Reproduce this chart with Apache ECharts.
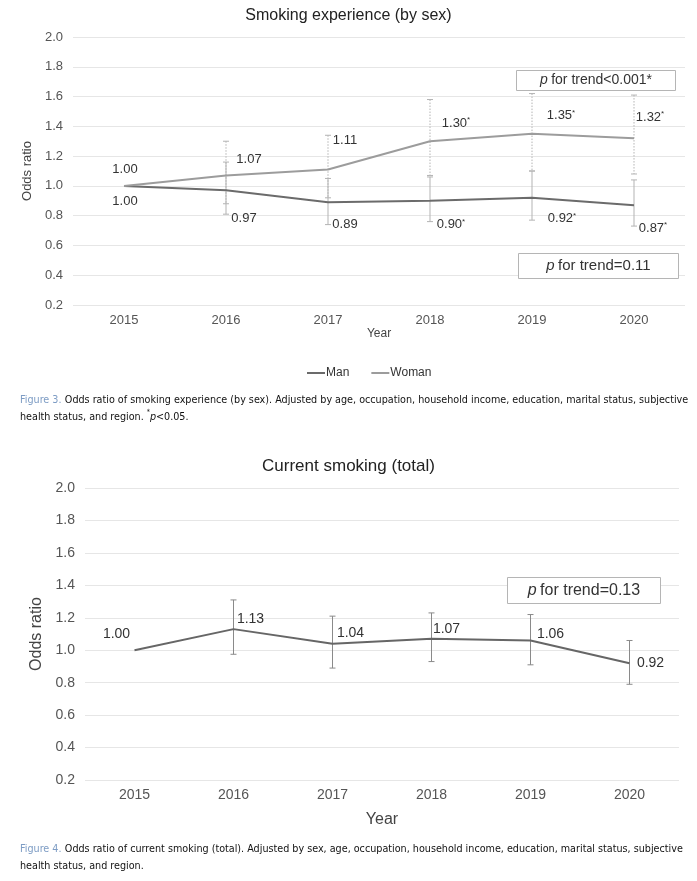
<!DOCTYPE html>
<html>
<head>
<meta charset="utf-8">
<script src="https://cdn.jsdelivr.net/npm/echarts@6/dist/echarts.min.js"></script>
<style>
html,body{margin:0;padding:0;background:#fff;}
#c{width:697px;height:881px;}
</style>
</head>
<body>
<div id="c"></div>
<script>
// ---------- data ----------
const years = ['2015', '2016', '2017', '2018', '2019', '2020'];
const yTickMin = 0.2, yTickMax = 2.0, yTickStep = 0.2;

// Figure 3: smoking experience by sex
const manOR     = [1.00, 0.97, 0.89, 0.90, 0.92, 0.87];
const manLow    = [null, 0.81, 0.74, 0.76, 0.77, 0.73];
const manHigh   = [null, 1.16, 1.05, 1.06, 1.10, 1.04];
const manSig    = [false, false, false, true, true, true];
const womanOR   = [1.00, 1.07, 1.11, 1.30, 1.35, 1.32];
const womanLow  = [null, 0.88, 0.92, 1.07, 1.10, 1.08];
const womanHigh = [null, 1.30, 1.34, 1.58, 1.62, 1.61];
const womanSig  = [false, false, false, true, true, true];
const trendMan = '=0.11';
const trendWoman = '<0.001*';

// Figure 4: current smoking (total)
const totalOR   = [1.00, 1.13, 1.04, 1.07, 1.06, 0.92];
const totalLow  = [null, 0.975, 0.89, 0.93, 0.91, 0.79];
const totalHigh = [null, 1.31, 1.21, 1.23, 1.22, 1.06];
const totalSig  = [false, false, false, false, false, false];
const trendTotal = '=0.13';

// ---------- label placement (style, not data) ----------
const womanLabelOff = [[1,-16],[23,-16],[17,-29],[26,-18],[29,-18],[16,-21]];
const manLabelOff   = [[1,16],[18,28],[17,22],[21,24],[30,21],[19,23]];
const totalLabelOff = [[-18,-16],[17,-10],[18,-11],[15,-10],[20,-6],[21,0]];

const FONT = '"Liberation Sans", Arial, sans-serif';
const CAPFONT = '"Liberation Sans Narrow", "DejaVu Sans Condensed", sans-serif';

function lineData(vals, sig, offs, fs) {
  return vals.map((v, i) => ({
    value: v,
    label: {
      show: true,
      position: 'inside',
      offset: offs[i],
      formatter: sig[i] ? '{a|' + v.toFixed(2) + '}{s|*}' : '{a|' + v.toFixed(2) + '}',
      rich: {
        a: { fontSize: fs, color: '#333', fontFamily: FONT },
        s: { fontSize: 8, color: '#333', fontFamily: FONT, verticalAlign: 'top', padding: [0,0,6,0] }
      }
    }
  }));
}

function errData(low, high) {
  const out = [];
  low.forEach((l, i) => { if (l != null) out.push([i, l, high[i]]); });
  return out;
}

function errSeries(low, high, xi, yi, color, dash, z) {
  return {
    type: 'custom',
    xAxisIndex: xi, yAxisIndex: yi,
    z: z,
    silent: true,
    data: errData(low, high),
    renderItem: function (params, api) {
      const lo = api.coord([api.value(0), api.value(1)]);
      const hi = api.coord([api.value(0), api.value(2)]);
      const st = { stroke: color, lineWidth: 1, lineDash: dash };
      const cap = 3;
      return {
        type: 'group',
        children: [
          { type: 'line', shape: { x1: lo[0], y1: hi[1], x2: lo[0], y2: lo[1] }, style: st },
          { type: 'line', shape: { x1: lo[0]-cap, y1: hi[1], x2: lo[0]+cap, y2: hi[1] }, style: { stroke: color, lineWidth: 1 } },
          { type: 'line', shape: { x1: lo[0]-cap, y1: lo[1], x2: lo[0]+cap, y2: lo[1] }, style: { stroke: color, lineWidth: 1 } }
        ]
      };
    }
  };
}

function yAxis(gi, fs, nameFs, gap) {
  return {
    gridIndex: gi, type: 'value', min: yTickMin, max: yTickMax, interval: yTickStep,
    name: 'Odds ratio', nameLocation: 'middle', nameGap: gap,
    nameTextStyle: { fontSize: nameFs, color: '#444', fontFamily: FONT },
    axisLine: { show: false }, axisTick: { show: false },
    axisLabel: { fontSize: fs, color: '#555', fontFamily: FONT, margin: 10, formatter: v => v.toFixed(1) },
    splitLine: { lineStyle: { color: '#e6e6e6', width: 1 } }
  };
}
function xAxis(gi, fs, nameFs, gap, margin) {
  return {
    gridIndex: gi, type: 'category', data: years, boundaryGap: true,
    name: 'Year', nameLocation: 'middle', nameGap: gap,
    nameTextStyle: { fontSize: nameFs, color: '#444', fontFamily: FONT },
    axisLine: { show: false }, axisTick: { show: false },
    axisLabel: { fontSize: fs, color: '#555', fontFamily: FONT, margin: margin }
  };
}

function pBox(x, y, w, h, val, fs) {
  return {
    type: 'group', left: x, top: y, z: 100,
    children: [
      { type: 'rect', z: 100, shape: { x: 0, y: 0, width: w, height: h }, style: { fill: '#fff', stroke: '#b5b5b5', lineWidth: 1 } },
      { type: 'text', z: 101, x: w/2, y: h/2, style: {
          text: '{i|p} {n|for trend' + val + '}',
          align: 'center', verticalAlign: 'middle',
          rich: {
            i: { fontStyle: 'italic', fontSize: fs, fill: '#333', fontFamily: FONT },
            n: { fontSize: fs, fill: '#333', fontFamily: FONT }
          }
      } }
    ]
  };
}

const CAPFS = 10.7;
function caption(y, line1, line2) {
  return {
    type: 'text', left: 20, top: y, z: 100,
    style: {
      text: line1 + '\n' + line2,
      lineHeight: 17,
      rich: {
        f: { fill: '#7d9cc4', fontSize: CAPFS, fontFamily: CAPFONT, lineHeight: 17 },
        t: { fill: '#111', fontSize: CAPFS, fontFamily: CAPFONT, lineHeight: 17 },
        i: { fill: '#111', fontSize: CAPFS, fontFamily: CAPFONT, fontStyle: 'italic', lineHeight: 17 },
        s: { fill: '#111', fontSize: 7, fontFamily: CAPFONT, verticalAlign: 'top', lineHeight: 17 }
      }
    }
  };
}

const chart = echarts.init(document.getElementById('c'), null, { renderer: 'canvas' });
chart.setOption({
  backgroundColor: '#fff',
  animation: false,
  title: [
    { text: 'Smoking experience (by sex)', left: 'center', top: 3,
      textStyle: { fontSize: 16, fontWeight: 'normal', color: '#222', fontFamily: FONT } },
    { text: 'Current smoking (total)', left: 'center', top: 453,
      textStyle: { fontSize: 17, fontWeight: 'normal', color: '#222', fontFamily: FONT } }
  ],
  legend: {
    data: [
      { name: 'Man', itemStyle: { color: '#6b6b6b', opacity: 1 } },
      { name: 'Woman', itemStyle: { color: '#9c9c9c', opacity: 1 } }
    ],
    top: 362, left: 302,
    itemWidth: 18, itemHeight: 2, itemGap: 22, icon: 'rect',
    textStyle: { fontSize: 12, color: '#333', fontFamily: FONT, padding: [0,0,0,-4] }
  },
  grid: [
    { left: 73, right: 12, top: 37, height: 268 },
    { left: 85, right: 18, top: 488, height: 292 }
  ],
  xAxis: [ xAxis(0, 13, 12, 23, 9), xAxis(1, 14, 16, 32, 8) ],
  yAxis: [ yAxis(0, 13, 13, 29), yAxis(1, 14, 16, 40) ],
  series: [
    errSeries(womanLow, womanHigh, 0, 0, '#b3b3b3', [1.5, 1.5], 1),
    errSeries(manLow, manHigh, 0, 0, '#b3b3b3', null, 1),
    {
      name: 'Man', type: 'line', xAxisIndex: 0, yAxisIndex: 0, z: 3,
      data: lineData(manOR, manSig, manLabelOff, 13),
      symbol: 'circle', symbolSize: 1, showSymbol: true,
      itemStyle: { color: 'rgba(0,0,0,0)' },
      lineStyle: { color: '#6b6b6b', width: 2 }
    },
    {
      name: 'Woman', type: 'line', xAxisIndex: 0, yAxisIndex: 0, z: 3,
      data: lineData(womanOR, womanSig, womanLabelOff, 13),
      symbol: 'circle', symbolSize: 1, showSymbol: true,
      itemStyle: { color: 'rgba(0,0,0,0)' },
      lineStyle: { color: '#9c9c9c', width: 2 }
    },
    errSeries(totalLow, totalHigh, 1, 1, '#8a8a8a', null, 1),
    {
      name: 'Total', type: 'line', xAxisIndex: 1, yAxisIndex: 1, z: 3,
      data: lineData(totalOR, totalSig, totalLabelOff, 14),
      symbol: 'circle', symbolSize: 1, showSymbol: true,
      itemStyle: { color: 'rgba(0,0,0,0)' },
      lineStyle: { color: '#666', width: 2 }
    }
  ],
  graphic: [
    pBox(516, 70, 159, 20, trendWoman, 14),
    pBox(518, 253, 160, 25, trendMan, 15),
    pBox(507, 577, 153, 26, trendTotal, 16),
    caption(392,
      '{f|Figure 3.} {t|Odds ratio of smoking experience (by sex). Adjusted by age, occupation, household income, education, marital status, subjective}',
      '{t|health status, and region. }{s|*}{i|p}{t|<0.05.}'),
    caption(841,
      '{f|Figure 4.} {t|Odds ratio of current smoking (total). Adjusted by sex, age, occupation, household income, education, marital status, subjective}',
      '{t|health status, and region.}')
  ]
});
</script>
</body>
</html>
